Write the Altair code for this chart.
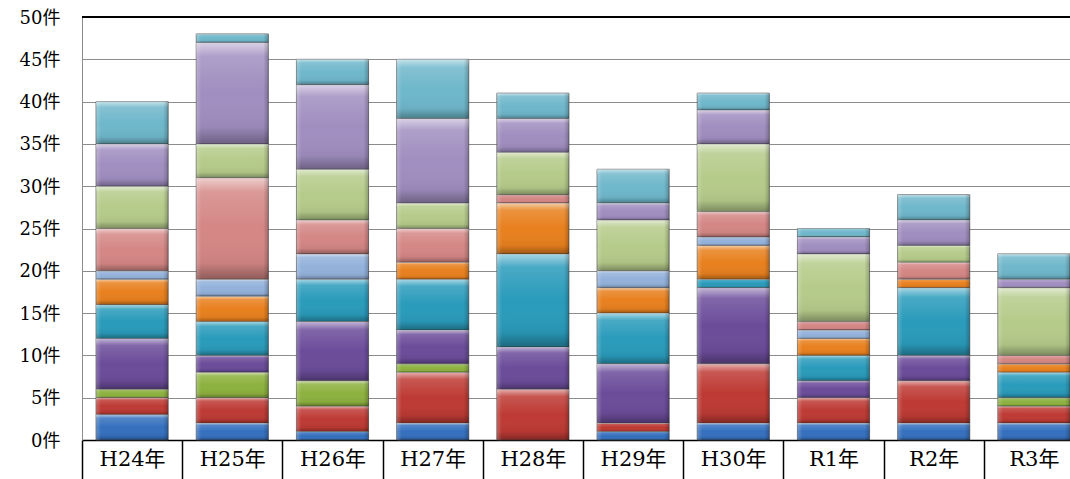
import altair as alt
import pandas as pd

# Fiscal years on the x axis
years = ["H24年", "H25年", "H26年", "H27年", "H28年", "H29年", "H30年", "R1年", "R2年", "R3年"]

# Case counts per category, stacked bottom to top
cat01 = [3, 2, 1, 2, 0, 1, 2, 2, 2, 2]
cat02 = [2, 3, 3, 6, 6, 1, 7, 3, 5, 2]
cat03 = [1, 3, 3, 1, 0, 0, 0, 0, 0, 1]
cat04 = [6, 2, 7, 4, 5, 7, 9, 2, 3, 0]
cat05 = [4, 4, 5, 6, 11, 6, 1, 3, 8, 3]
cat06 = [3, 3, 0, 2, 6, 3, 4, 2, 1, 1]
cat07 = [1, 2, 3, 0, 0, 2, 1, 1, 0, 0]
cat08 = [5, 12, 4, 4, 1, 0, 3, 1, 2, 1]
cat09 = [5, 4, 6, 3, 5, 6, 8, 8, 2, 8]
cat10 = [5, 12, 10, 10, 4, 2, 4, 2, 3, 1]
cat11 = [5, 1, 3, 7, 3, 4, 2, 1, 3, 3]

series = [cat01, cat02, cat03, cat04, cat05, cat06, cat07, cat08, cat09, cat10, cat11]
names = [f"区分{i + 1}" for i in range(len(series))]
colors = ["#3570BE", "#BE3A34", "#8DB13F", "#6B4C9A", "#2A9BBB", "#E8801E",
          "#93B1DB", "#D48785", "#B5CB8A", "#A08EC0", "#6FB7CB"]

y_ticks = list(range(0, 51, 5))

rows = []
for k, (name, vals) in enumerate(zip(names, series)):
    for yr, v in zip(years, vals):
        rows.append({"year": yr, "series": name, "k": k, "count": v})
df = pd.DataFrame(rows)

FONT = "DejaVu Serif, Noto Sans CJK JP"

x_enc = alt.X(
    "year:N",
    sort=years,
    scale=alt.Scale(range=[0, 1002], paddingInner=0, paddingOuter=0),
    axis=alt.Axis(
        title=None, labelAngle=0, orient="bottom",
        domainColor="black", domainWidth=1.5,
        tickBand="extent", tickSize=39, tickColor="black", tickWidth=1.5,
        labelFont=FONT, labelFontSize=21, labelColor="black",
        labelBaseline="top", labelPadding=-31,
    ),
)
y_enc = alt.Y(
    "y1:Q",
    scale=alt.Scale(domain=[0, 50], nice=False),
    axis=alt.Axis(
        title=None, values=y_ticks, labelExpr="datum.value + '件'",
        grid=True, gridColor="#8c8c8c", gridWidth=1,
        domainColor="#8c8c8c", ticks=False,
        labelFont=FONT, labelFontSize=18, labelColor="black",
        labelPadding=22, labelOffset=1,
    ),
)

base = (
    alt.Chart(df)
    .transform_filter("datum.count > 0")
    .transform_stack(stack="count", groupby=["year"],
                     sort=[alt.SortField("k", order="ascending")], as_=["y0", "y1"])
)

bars = base.mark_bar(
    width=alt.RelativeBandSize(0.72), stroke="#444444", strokeWidth=0.9, strokeOpacity=0.75
).encode(
    x=x_enc,
    y=y_enc,
    y2="y0:Q",
    color=alt.Color("series:N", scale=alt.Scale(domain=names, range=colors), legend=None),
)

# bevel shading: light top edge, dark bottom edge
shade_v = base.mark_bar(
    width=alt.RelativeBandSize(0.72),
    fill=alt.LinearGradient(
        gradient="linear", x1=0, x2=0, y1=0, y2=1,
        stops=[
            alt.GradientStop(color="rgba(255,255,255,0.6)", offset=0),
            alt.GradientStop(color="rgba(255,255,255,0.15)", offset=0.14),
            alt.GradientStop(color="rgba(255,255,255,0)", offset=0.5),
            alt.GradientStop(color="rgba(0,0,0,0.05)", offset=0.84),
            alt.GradientStop(color="rgba(0,0,0,0.32)", offset=1),
        ],
    ),
).encode(x=alt.X("year:N", sort=years), y="y1:Q", y2="y0:Q")

# bevel shading: left and right edges
shade_h = base.mark_bar(
    width=alt.RelativeBandSize(0.72),
    fill=alt.LinearGradient(
        gradient="linear", x1=0, x2=1, y1=0, y2=0,
        stops=[
            alt.GradientStop(color="rgba(255,255,255,0.22)", offset=0),
            alt.GradientStop(color="rgba(255,255,255,0)", offset=0.07),
            alt.GradientStop(color="rgba(0,0,0,0)", offset=0.93),
            alt.GradientStop(color="rgba(0,0,0,0.22)", offset=1),
        ],
    ),
).encode(x=alt.X("year:N", sort=years), y="y1:Q", y2="y0:Q")

# heavy line along the top of the value range
top_line = alt.Chart(pd.DataFrame({"y1": [50]})).mark_rule(
    color="black", strokeWidth=2
).encode(y="y1:Q")

chart = (
    alt.layer(bars, shade_v, shade_h, top_line)
    .properties(
        width=988, height=423,
        autosize=alt.AutoSizeParams(type="none"),
        padding={"left": 82, "top": 17, "right": 0, "bottom": 39},
        background="white",
    )
    .configure_view(stroke=None)
)

chart.save("out.html", embed_options={"renderer": "svg", "actions": False})
